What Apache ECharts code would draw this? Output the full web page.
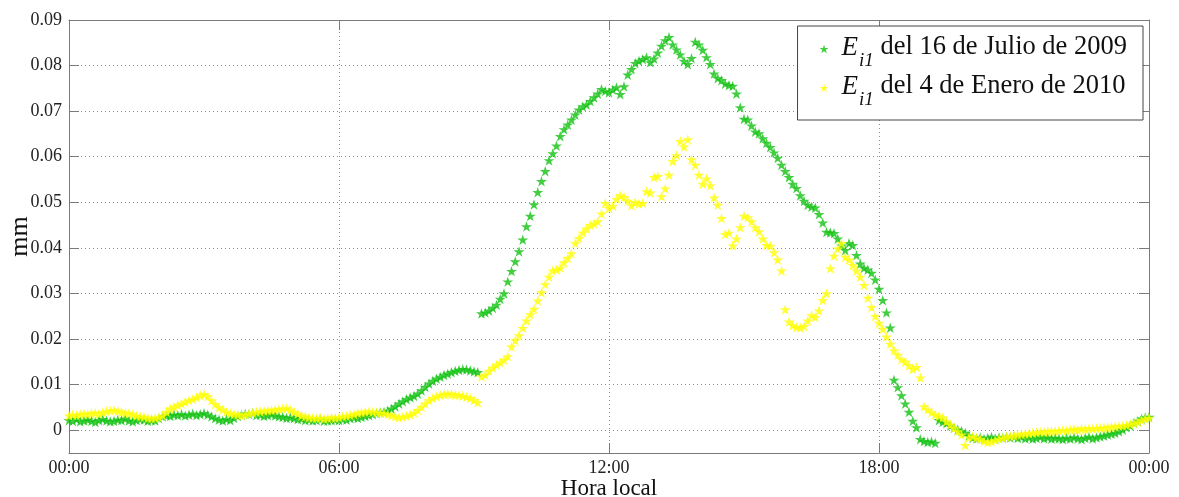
<!DOCTYPE html>
<html>
<head>
<meta charset="utf-8">
<title>Ei1 - Hora local</title>
<script src="https://cdn.jsdelivr.net/npm/echarts@6/dist/echarts.min.js"></script>
<style>
  html, body { margin: 0; padding: 0; background: #fff; }
  #chart { width: 1179px; height: 497px; }
</style>
</head>
<body>
<div id="chart"></div>
<script>
// Sampling instants: every 5 minutes from 00:00 to 24:00
const sampleMinutes = Array.from({ length: 289 }, (_, i) => i * 5);

// Ei1, 16 July 2009 (mm)
const julio2009 = [
  0.0022,0.0020,0.0024,0.0019,0.0021,0.0023,0.0020,0.0018,0.0022,0.0024,0.0021,0.0019,
  0.0020,0.0023,0.0022,0.0025,0.0021,0.0019,0.0022,0.0024,0.0023,0.0020,0.0022,0.0021,
  0.0026,0.0030,0.0032,0.0031,0.0034,0.0033,0.0035,0.0032,0.0034,0.0036,0.0033,0.0035,
  0.0037,0.0034,0.0030,0.0026,0.0023,0.0021,0.0024,0.0022,0.0027,0.0031,0.0034,0.0036,
  0.0035,0.0037,0.0033,0.0034,0.0031,0.0033,0.0035,0.0032,0.0030,0.0029,0.0027,0.0028,
  0.0026,0.0024,0.0025,0.0022,0.0023,0.0021,0.0022,0.0024,0.0020,0.0021,0.0022,0.0023,
  0.0022,0.0024,0.0023,0.0026,0.0028,0.0027,0.0029,0.0031,0.0033,0.0035,0.0037,0.0039,
  0.0040,0.0043,0.0047,0.0052,0.0058,0.0063,0.0068,0.0072,0.0075,0.0080,0.0087,0.0095,
  0.0102,0.0108,0.0113,0.0117,0.0121,0.0124,0.0127,0.0130,0.0132,0.0134,0.0133,0.0131,
  0.0129,0.0127,0.0256,0.0258,0.0262,0.0268,0.0275,0.0288,0.0300,0.0326,0.0349,0.0370,
  0.0392,0.0418,0.0447,0.0470,0.0495,0.0522,0.0546,0.0568,0.0592,0.0607,0.0624,0.0645,
  0.0660,0.0670,0.0681,0.0692,0.0703,0.0710,0.0714,0.0722,0.0730,0.0738,0.0748,0.0744,
  0.0741,0.0747,0.0752,0.0737,0.0754,0.0780,0.0792,0.0805,0.0810,0.0814,0.0818,0.0807,
  0.0815,0.0828,0.0843,0.0855,0.0862,0.0846,0.0835,0.0824,0.0810,0.0803,0.0816,0.0852,
  0.0846,0.0834,0.0818,0.0803,0.0782,0.0772,0.0768,0.0760,0.0757,0.0755,0.0738,0.0708,
  0.0683,0.0681,0.0668,0.0655,0.0651,0.0640,0.0630,0.0621,0.0609,0.0597,0.0582,0.0568,
  0.0555,0.0540,0.0531,0.0515,0.0503,0.0494,0.0490,0.0488,0.0474,0.0455,0.0435,0.0434,
  0.0432,0.0420,0.0405,0.0395,0.0410,0.0406,0.0384,0.0365,0.0356,0.0352,0.0345,0.0330,
  0.0310,0.0285,0.0258,0.0225,0.0110,0.0094,0.0076,0.0058,0.0040,0.0020,0.0006,-0.0020,
  -0.0024,-0.0026,-0.0025,-0.0028,0.0022,0.0018,0.0015,0.0010,0.0005,0.0001,-0.0002,-0.0006,
  -0.0012,-0.0017,-0.0018,-0.0016,-0.0019,-0.0017,-0.0015,-0.0018,-0.0016,-0.0017,-0.0015,-0.0016,
  -0.0014,-0.0017,-0.0015,-0.0018,-0.0016,-0.0019,-0.0017,-0.0015,-0.0018,-0.0016,-0.0019,-0.0017,
  -0.0018,-0.0020,-0.0017,-0.0019,-0.0016,-0.0018,-0.0020,-0.0017,-0.0015,-0.0018,-0.0016,-0.0014,
  -0.0012,-0.0010,-0.0008,-0.0006,-0.0003,0.0001,0.0006,0.0010,0.0016,0.0020,0.0025,0.0028,
  0.0029
];

// Ei1, 4 January 2010 (mm)
const enero2010 = [
  0.0032,0.0034,0.0033,0.0035,0.0036,0.0035,0.0037,0.0038,0.0036,0.0039,0.0041,0.0043,
  0.0044,0.0042,0.0040,0.0038,0.0037,0.0035,0.0031,0.0030,0.0029,0.0027,0.0026,0.0027,
  0.0028,0.0032,0.0040,0.0047,0.0051,0.0055,0.0058,0.0062,0.0065,0.0068,0.0072,0.0076,
  0.0079,0.0074,0.0065,0.0057,0.0050,0.0045,0.0040,0.0037,0.0035,0.0034,0.0033,0.0034,
  0.0036,0.0038,0.0040,0.0041,0.0042,0.0043,0.0044,0.0045,0.0046,0.0047,0.0048,0.0045,
  0.0040,0.0036,0.0032,0.0030,0.0028,0.0027,0.0026,0.0027,0.0025,0.0026,0.0028,0.0027,
  0.0028,0.0030,0.0031,0.0033,0.0035,0.0037,0.0039,0.0040,0.0041,0.0040,0.0039,0.0038,
  0.0037,0.0035,0.0033,0.0030,0.0028,0.0029,0.0031,0.0034,0.0038,0.0044,0.0051,0.0058,
  0.0065,0.0070,0.0074,0.0077,0.0079,0.0080,0.0079,0.0078,0.0077,0.0075,0.0073,0.0070,
  0.0066,0.0061,0.0118,0.0121,0.0130,0.0137,0.0143,0.0148,0.0154,0.0162,0.0183,0.0197,
  0.0208,0.0224,0.0240,0.0254,0.0266,0.0284,0.0302,0.0320,0.0336,0.0350,0.0352,0.0356,
  0.0368,0.0378,0.0388,0.0410,0.0421,0.0433,0.0442,0.0450,0.0453,0.0458,0.0475,0.0498,
  0.0487,0.0492,0.0507,0.0515,0.0511,0.0503,0.0493,0.0500,0.0497,0.0498,0.0524,0.0521,
  0.0555,0.0557,0.0513,0.0530,0.0560,0.0590,0.0603,0.0634,0.0622,0.0638,0.0594,0.0582,
  0.0560,0.0540,0.0552,0.0537,0.0510,0.0494,0.0465,0.0430,0.0433,0.0405,0.0420,0.0445,
  0.0470,0.0467,0.0458,0.0445,0.0436,0.0420,0.0406,0.0404,0.0390,0.0374,0.0350,0.0265,
  0.0238,0.0230,0.0226,0.0225,0.0228,0.0240,0.0252,0.0248,0.0262,0.0285,0.0300,0.0355,
  0.0382,0.0398,0.0410,0.0380,0.0374,0.0362,0.0350,0.0336,0.0318,0.0290,0.0270,0.0250,
  0.0235,0.0222,0.0205,0.0189,0.0175,0.0165,0.0155,0.0150,0.0142,0.0134,0.0138,0.0115,
  0.0052,0.0045,0.0039,0.0034,0.0031,0.0028,0.0019,0.0012,0.0005,-0.0003,-0.0010,-0.0033,
  -0.0016,-0.0014,-0.0017,-0.0020,-0.0024,-0.0026,-0.0025,-0.0022,-0.0019,-0.0017,-0.0015,-0.0013,
  -0.0012,-0.0010,-0.0009,-0.0008,-0.0007,-0.0006,-0.0005,-0.0004,-0.0004,-0.0003,-0.0002,-0.0002,
  -0.0001,0.0000,-0.0001,0.0001,0.0002,0.0001,0.0003,0.0002,0.0004,0.0003,0.0004,0.0005,
  0.0005,0.0006,0.0007,0.0008,0.0009,0.0010,0.0011,0.0013,0.0015,0.0018,0.0022,0.0025,
  0.0027
];

// Axis ticks
const xTickHours = [0, 6, 12, 18, 24];
const xTickLabels = ['00:00', '06:00', '12:00', '18:00', '00:00'];
const yTicks = [0, 0.01, 0.02, 0.03, 0.04, 0.05, 0.06, 0.07, 0.08, 0.09];
const yTickLabels = ['0', '0.01', '0.02', '0.03', '0.04', '0.05', '0.06', '0.07', '0.08', '0.09'];

// Legend texts
const legendNames = ['Ei1 del 16 de Julio de 2009', 'Ei1 del 4 de Enero de 2010'];
const legendTails = [' del 16 de Julio de 2009', ' del 4 de Enero de 2010'];

const SERIF = 'Liberation Serif';
const STAR = 'path://M50 0 L61.17 34.63 L97.55 34.55 L68.07 55.87 L79.39 90.45 L50 69 L20.61 90.45 L31.93 55.87 L2.45 34.55 L38.83 34.63 Z';
const GREEN = '#12c212';
const YELLOW = '#ffff00';
const AXIS_GREY = '#7a7a7a';
const GRID_LINE = { type: [1, 3], color: '#8c8c8c', width: 1 };

function toPoints(values) {
  return values.map((v, i) => [sampleMinutes[i] / 60, v]);
}

const chart = echarts.init(document.getElementById('chart'), null, { renderer: 'canvas' });

const frameLine = { show: true, onZero: false, lineStyle: { color: AXIS_GREY, width: 1 } };
const frameTick = { show: true, inside: true, length: 10, lineStyle: { color: AXIS_GREY, width: 1 } };

chart.setOption({
  animation: false,
  backgroundColor: '#fff',
  grid: { left: 69, right: 30, top: 20, bottom: 44, containLabel: false, outerBoundsMode: 'none' },
  xAxis: [
    {
      type: 'value', min: 0, max: 24, interval: 6, position: 'bottom',
      axisLine: frameLine,
      axisTick: frameTick,
      axisLabel: {
        fontFamily: SERIF, fontSize: 18, color: '#222', margin: 6,
        formatter: (v) => xTickLabels[xTickHours.indexOf(v)]
      },
      splitLine: { show: true, lineStyle: GRID_LINE },
      name: 'Hora local', nameLocation: 'middle', nameGap: 24, nameMoveOverlap: false,
      nameTextStyle: { fontFamily: SERIF, fontSize: 23, color: '#111' }
    },
    {
      type: 'value', min: 0, max: 24, interval: 6, position: 'top',
      axisLine: frameLine,
      axisTick: frameTick,
      axisLabel: { show: false },
      splitLine: { show: false }
    }
  ],
  yAxis: [
    {
      type: 'value', min: -0.005, max: 0.09, splitNumber: 10, position: 'left',
      axisLine: frameLine,
      axisTick: Object.assign({ customValues: yTicks }, frameTick),
      axisLabel: {
        customValues: yTicks,
        fontFamily: SERIF, fontSize: 18, color: '#222', margin: 7,
        formatter: (v) => yTickLabels[yTicks.indexOf(v)]
      },
      splitLine: { show: true, lineStyle: GRID_LINE },
      name: 'mm', nameLocation: 'middle', nameGap: 36, nameMoveOverlap: false,
      nameTextStyle: { fontFamily: SERIF, fontSize: 26, color: '#111' }
    },
    {
      type: 'value', min: -0.005, max: 0.09, splitNumber: 10, position: 'right',
      axisLine: frameLine,
      axisTick: Object.assign({ customValues: yTicks }, frameTick),
      axisLabel: { show: false },
      splitLine: { show: false }
    }
  ],
  legend: {
    orient: 'vertical', right: 36, top: 26,
    itemWidth: 9, itemHeight: 9, itemGap: 3,
    padding: [8, 16, 11, 22],
    backgroundColor: '#fff', borderColor: '#444', borderWidth: 1, borderRadius: 0,
    data: [
      { name: legendNames[0], icon: STAR, itemStyle: { color: GREEN } },
      { name: legendNames[1], icon: STAR, itemStyle: { color: YELLOW } }
    ],
    formatter: (name) => '{e|E}{s|i1}{t|' + legendTails[legendNames.indexOf(name)] + '}',
    textStyle: {
      fontFamily: SERIF, fontSize: 26, color: '#111',
      rich: {
        e: { fontFamily: SERIF, fontStyle: 'italic', fontSize: 27, color: '#111', lineHeight: 30, verticalAlign: 'top', padding: [0, 1, 0, 8] },
        s: { fontFamily: SERIF, fontStyle: 'italic', fontSize: 19, color: '#111', lineHeight: 21, verticalAlign: 'top', padding: [17, 0, 0, 0] },
        t: { fontFamily: SERIF, fontSize: 26.5, color: '#111', lineHeight: 30, verticalAlign: 'top' }
      }
    }
  },
  series: [
    {
      name: legendNames[0], type: 'scatter', xAxisIndex: 0, yAxisIndex: 0,
      symbol: STAR, symbolSize: 11, symbolKeepAspect: true,
      itemStyle: { color: GREEN },
      data: toPoints(julio2009)
    },
    {
      name: legendNames[1], type: 'scatter', xAxisIndex: 0, yAxisIndex: 0,
      symbol: STAR, symbolSize: 11, symbolKeepAspect: true,
      itemStyle: { color: YELLOW },
      data: toPoints(enero2010)
    }
  ]
});
</script>
</body>
</html>
